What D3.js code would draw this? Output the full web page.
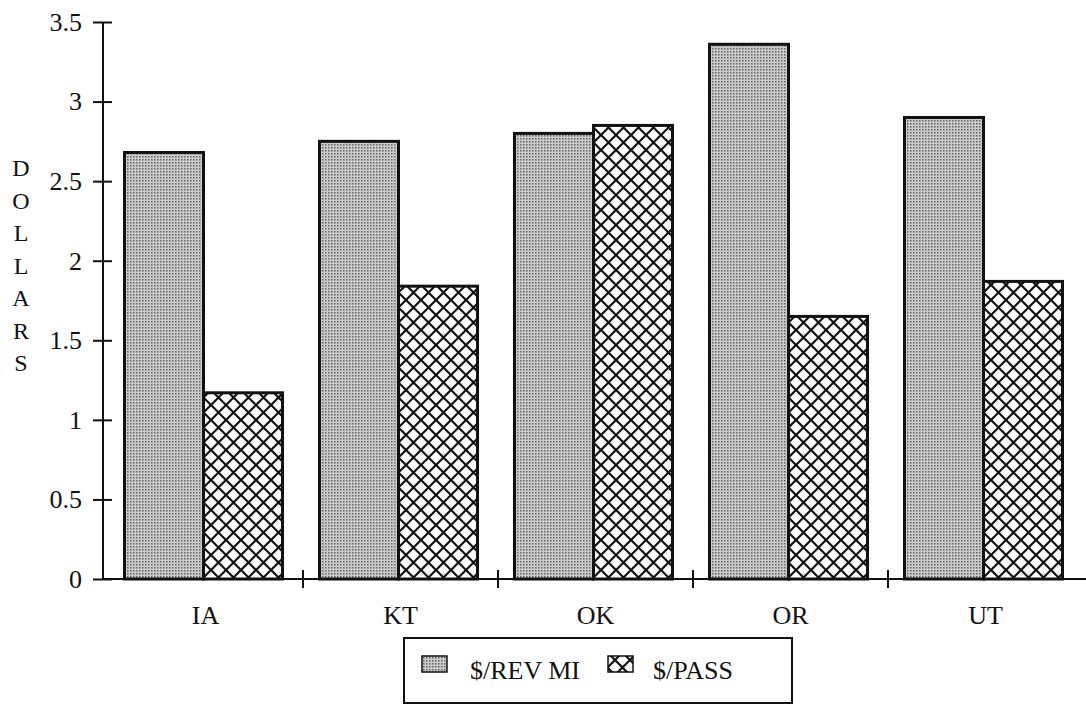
<!DOCTYPE html>
<html>
<head>
<meta charset="utf-8">
<script src="https://cdn.jsdelivr.net/npm/d3@7"></script>
<style>
  body { margin: 0; background: #fff; }
  text { font-family: "Liberation Serif", "Times New Roman", serif; fill: #111; }
</style>
</head>
<body>
<script>
// data
var states = ["IA", "KT", "OK", "OR", "UT"];
var revMi = [2.68, 2.75, 2.80, 3.36, 2.90];
var perPass = [1.17, 1.84, 2.85, 1.65, 1.87];
var yTicks = [0, 0.5, 1, 1.5, 2, 2.5, 3, 3.5];
var seriesNames = ["$/REV MI", "$/PASS"];
var axisLetters = "DOLLARS".split("");

var width = 1086, height = 705;
var axisX = 103;
var fontSize = 26;

var svg = d3.select("body").append("svg")
  .attr("width", width)
  .attr("height", height);

var defs = svg.append("defs");

// dithered gray for $/REV MI
var dots = defs.append("pattern")
  .attr("id", "dots").attr("patternUnits", "userSpaceOnUse")
  .attr("width", 3).attr("height", 3);
dots.append("rect").attr("width", 3).attr("height", 3).attr("fill", "#d8d8d8");
dots.append("rect").attr("width", 1.5).attr("height", 1.5).attr("fill", "#5a5a5a");
dots.append("rect").attr("x", 1.5).attr("y", 1.5).attr("width", 1).attr("height", 1).attr("fill", "#909090");

// crosshatch for $/PASS
var hatch = defs.append("pattern")
  .attr("id", "hatch").attr("patternUnits", "userSpaceOnUse")
  .attr("width", 15).attr("height", 15);
hatch.append("rect").attr("width", 15).attr("height", 15).attr("fill", "#fff");
hatch.append("path").attr("d", "M0,0L15,15M15,0L0,15M-2,13L2,17M13,-2L17,2M-2,2L2,-2M13,17L17,13")
  .attr("stroke", "#111").attr("stroke-width", 2.2);

var fills = ["url(#dots)", "url(#hatch)"];

var x = d3.scaleBand().domain(states).range([108, 1083]);
var inner = d3.scaleBand().domain([0, 1]).range([0, x.bandwidth()]).paddingOuter(0.234);
var y = d3.scaleLinear().domain([0, 3.5]).range([579, 22]);

// bars
var groups = svg.selectAll("g.state").data(states).enter().append("g")
  .attr("class", "state")
  .attr("transform", function(d){ return "translate(" + (x(d) - 2) + ",0)"; });

groups.selectAll("rect").data(function(d, i){ return [revMi[i], perPass[i]]; })
  .enter().append("rect")
  .attr("x", function(d, j){ return inner(j); })
  .attr("width", inner.bandwidth())
  .attr("y", function(d){ return y(d); })
  .attr("height", function(d){ return y(0) - y(d); })
  .attr("fill", function(d, j){ return fills[j]; })
  .attr("stroke", "#111")
  .attr("stroke-width", 3);

// y axis with cross ticks
var yAxis = svg.append("g")
  .attr("transform", "translate(" + axisX + ",0)")
  .call(d3.axisLeft(y).tickValues(yTicks).tickSize(10).tickPadding(11).tickFormat(d3.format("")));
yAxis.select(".domain").attr("stroke", "#111").attr("stroke-width", 2).attr("d", "M0," + y(3.5) + "V" + y(0));
yAxis.selectAll(".tick line").attr("x1", 9).attr("stroke", "#111").attr("stroke-width", 2);
yAxis.selectAll(".tick text").attr("font-size", fontSize).attr("font-family", "Liberation Serif, serif").attr("fill", "#111");

// x axis: line, divider ticks, category labels
var xAxis = svg.append("g")
  .attr("transform", "translate(0," + y(0) + ")")
  .call(d3.axisBottom(x).tickSize(0).tickPadding(27));
xAxis.select(".domain").attr("stroke", "#111").attr("stroke-width", 2).attr("d", "M" + axisX + ",0H" + width);
xAxis.selectAll(".tick text").attr("font-size", fontSize).attr("font-family", "Liberation Serif, serif").attr("fill", "#111");

xAxis.selectAll("line.divider").data(states.slice(1)).enter().append("line")
  .attr("class", "divider")
  .attr("x1", function(d){ return x(d); }).attr("x2", function(d){ return x(d); })
  .attr("y1", -9).attr("y2", 9)
  .attr("stroke", "#111").attr("stroke-width", 2);

// stacked axis title
svg.append("g").selectAll("text").data(axisLetters).enter().append("text")
  .attr("x", 21)
  .attr("y", function(d, i){ return 176 + i * 32.5; })
  .attr("text-anchor", "middle")
  .attr("font-size", fontSize - 2)
  .text(function(d){ return d; });

// legend
var legend = svg.append("g");
legend.append("rect")
  .attr("x", 404).attr("y", 638).attr("width", 388).attr("height", 65)
  .attr("fill", "#fff").attr("stroke", "#111").attr("stroke-width", 2);
var swatchX = [422, 608];
var labelX = [470, 653];
legend.selectAll("rect.swatch").data(seriesNames).enter().append("rect")
  .attr("class", "swatch")
  .attr("x", function(d, i){ return swatchX[i]; }).attr("y", 656)
  .attr("width", 25).attr("height", 16)
  .attr("fill", function(d, i){ return fills[i]; })
  .attr("stroke", "#111").attr("stroke-width", 1.5);
legend.selectAll("text").data(seriesNames).enter().append("text")
  .attr("x", function(d, i){ return labelX[i]; }).attr("y", 679)
  .attr("font-size", fontSize)
  .text(function(d){ return d; });
</script>
</body>
</html>
